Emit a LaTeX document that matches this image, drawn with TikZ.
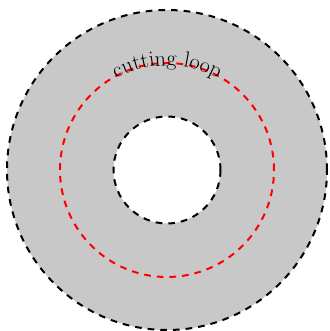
\documentclass[tikz,border=0pt]{standalone}
\usetikzlibrary{decorations.text}
\definecolor{ringgray}{RGB}{200,200,200}
\begin{document}
\begin{tikzpicture}[x=0.75pt,y=0.75pt,
  rimline/.style={draw=black,line width=1.5pt,dash pattern=on 5pt off 4.5pt},
  cutline/.style={draw=red,line width=1.5pt,dash pattern=on 5pt off 4.5pt}]
\fontsize{16.5}{20}\selectfont
\useasboundingbox (-167,-161) rectangle (162,170);
\coordinate (c) at (0,0);
\fill[ringgray,even odd rule] (c) circle (160) (c) circle (53.5);
\draw[rimline] (c) circle (160);
\draw[rimline] (c) circle (53.5);
\draw[cutline] (c) circle (107);
\path[decorate,decoration={text along path,text align=center,
  text={cutting loop}}]
  (180:104.5) arc (180:0:104.5);
\end{tikzpicture}
\end{document}
